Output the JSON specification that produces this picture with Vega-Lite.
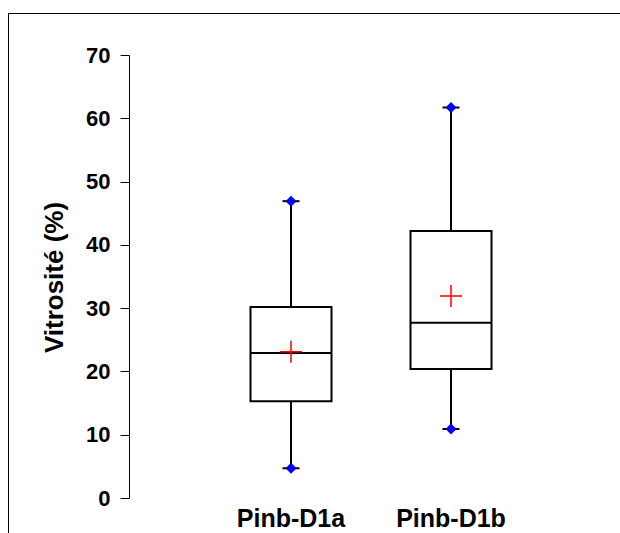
{
  "$schema": "https://vega.github.io/schema/vega-lite/v6.json",
  "width": 620,
  "height": 530,
  "autosize": {"type": "none"},
  "padding": {"left": 8, "top": 13, "right": 0, "bottom": 0},
  "background": "white",
  "config": {
    "font": "Liberation Sans",
    "view": {"stroke": "black", "strokeWidth": 1}
  },
  "data": {
    "values": [
      {"group": "Pinb-D1a", "min": 4.7, "q1": 15.3, "median": 22.9, "q3": 30.2, "max": 46.9, "mean": 23.1},
      {"group": "Pinb-D1b", "min": 10.9, "q1": 20.4, "median": 27.7, "q3": 42.2, "max": 61.7, "mean": 31.9}
    ]
  },
  "encoding": {
    "x": {
      "field": "group",
      "type": "nominal",
      "sort": null,
      "scale": {"domain": ["Pinb-D1a", "Pinb-D1b"], "range": [203, 523], "paddingInner": 0, "paddingOuter": 0},
      "axis": {
        "orient": "bottom",
        "offset": -17,
        "domain": false,
        "ticks": false,
        "tickSize": 0,
        "labelPadding": 0,
        "labelBaseline": "alphabetic",
        "labelAngle": 0,
        "labelFontSize": 25,
        "labelFontWeight": "bold",
        "labelColor": "black",
        "title": null,
        "grid": false
      }
    }
  },
  "layer": [
    {
      "mark": {"type": "rule", "color": "black", "strokeWidth": 2},
      "encoding": {
        "y": {
          "field": "min",
          "type": "quantitative",
          "scale": {"domain": [0, 70], "range": [485, 42], "nice": false, "zero": false},
          "axis": {
            "orient": "left",
            "offset": -121,
            "values": [0, 10, 20, 30, 40, 50, 60, 70],
            "grid": false,
            "tickSize": 9,
            "tickColor": "black",
            "tickWidth": 1,
            "domainColor": "black",
            "domainWidth": 1,
            "labelPadding": 10,
            "labelFontSize": 22,
            "labelFontWeight": "bold",
            "labelColor": "black",
            "title": "Vitrosité (%)",
            "titleFontSize": 26,
            "titleFontWeight": "bold",
            "titleColor": "black",
            "titleAngle": 270,
            "titleAlign": "center",
            "titleBaseline": "middle",
            "titleX": -75,
            "titleY": 264
          }
        },
        "y2": {"field": "max"}
      }
    },
    {
      "mark": {"type": "bar", "fill": "white", "stroke": "black", "strokeWidth": 2, "size": 81},
      "encoding": {
        "y": {"field": "q1", "type": "quantitative"},
        "y2": {"field": "q3"}
      }
    },
    {
      "mark": {"type": "tick", "color": "black", "opacity": 1, "thickness": 2, "size": 81},
      "encoding": {"y": {"field": "median", "type": "quantitative"}}
    },
    {
      "mark": {"type": "tick", "color": "black", "opacity": 1, "thickness": 2, "size": 17},
      "encoding": {"y": {"field": "min", "type": "quantitative"}}
    },
    {
      "mark": {"type": "tick", "color": "black", "opacity": 1, "thickness": 2, "size": 17},
      "encoding": {"y": {"field": "max", "type": "quantitative"}}
    },
    {
      "mark": {"type": "point", "shape": "diamond", "filled": true, "color": "#0000FF", "opacity": 1, "size": 120},
      "encoding": {"y": {"field": "min", "type": "quantitative"}}
    },
    {
      "mark": {"type": "point", "shape": "diamond", "filled": true, "color": "#0000FF", "opacity": 1, "size": 120},
      "encoding": {"y": {"field": "max", "type": "quantitative"}}
    },
    {
      "mark": {"type": "point", "shape": "M-1,0H1M0,-1V1", "filled": false, "stroke": "#FF0000", "strokeWidth": 1.5, "opacity": 1, "size": 484},
      "encoding": {"y": {"field": "mean", "type": "quantitative"}}
    }
  ]
}
